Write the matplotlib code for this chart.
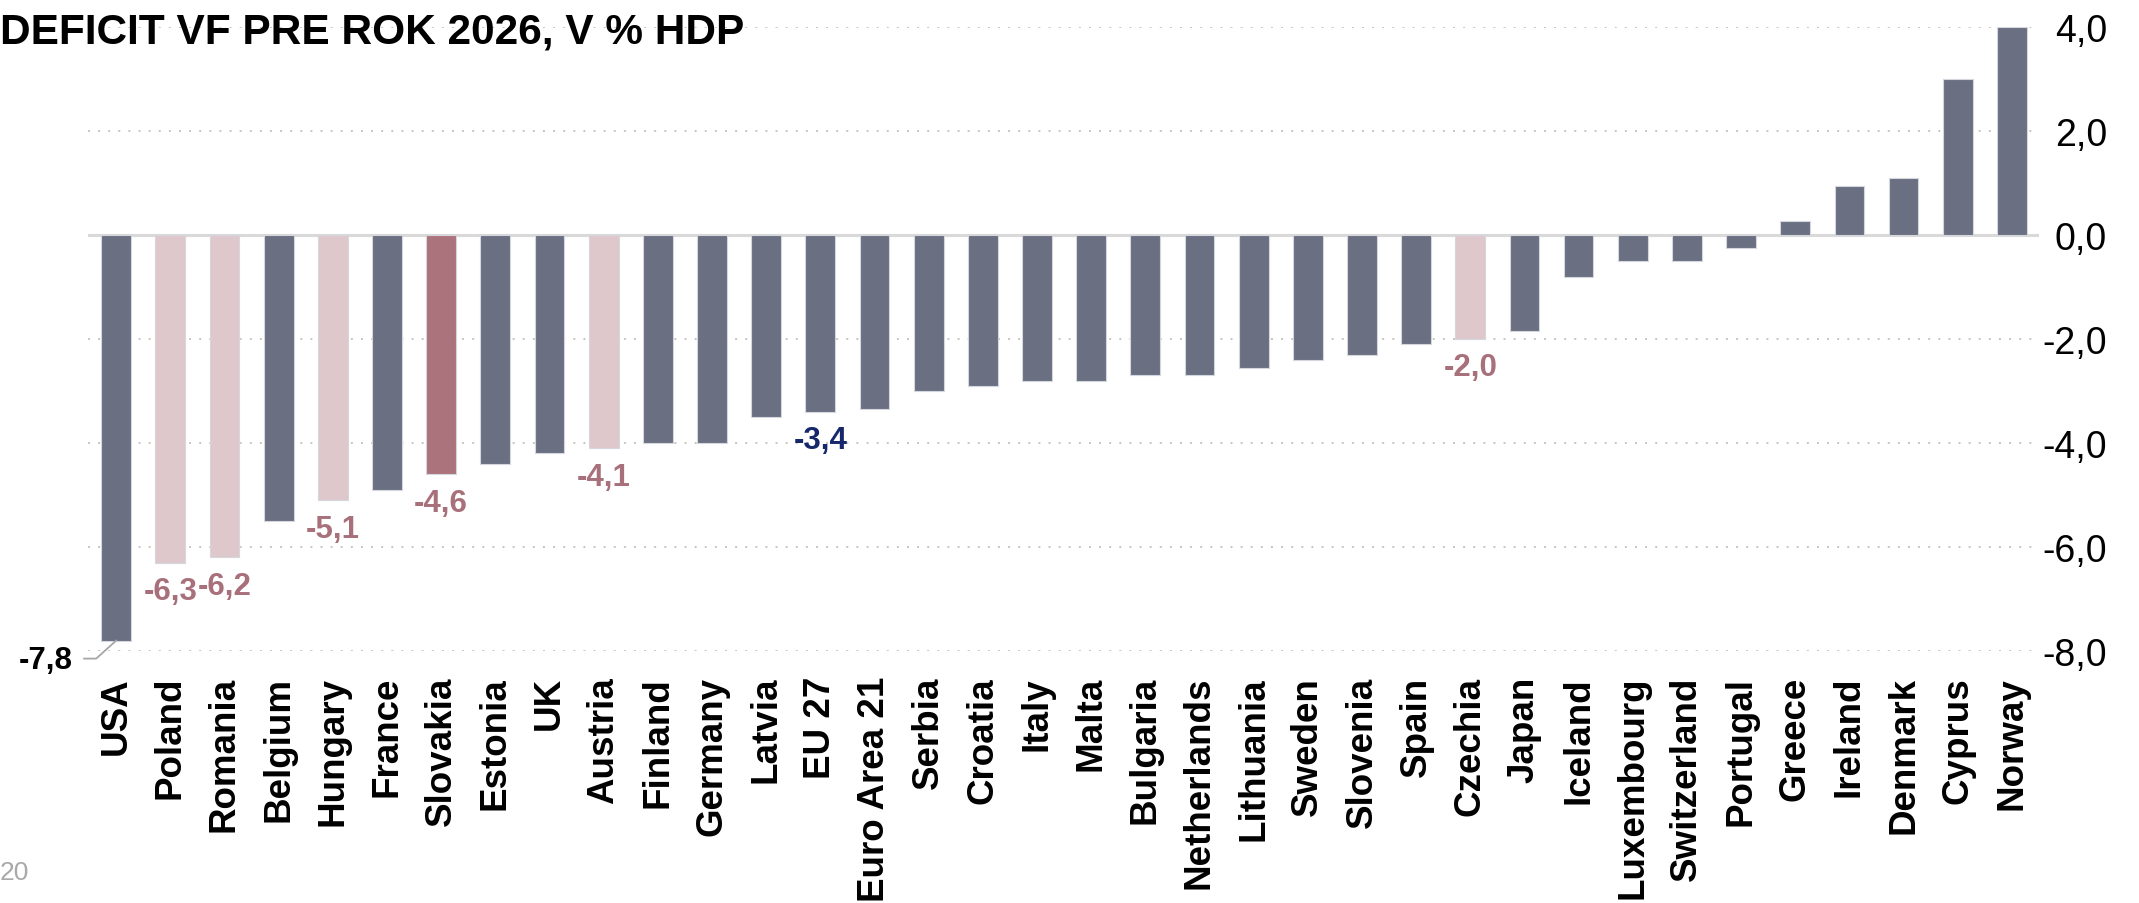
import matplotlib
matplotlib.use("Agg")
import matplotlib.pyplot as plt
import numpy as np

countries = ["USA", "Poland", "Romania", "Belgium", "Hungary", "France", "Slovakia",
             "Estonia", "UK", "Austria", "Finland", "Germany", "Latvia", "EU 27",
             "Euro Area 21", "Serbia", "Croatia", "Italy", "Malta", "Bulgaria",
             "Netherlands", "Lithuania", "Sweden", "Slovenia", "Spain", "Czechia",
             "Japan", "Iceland", "Luxembourg", "Switzerland", "Portugal", "Greece",
             "Ireland", "Denmark", "Cyprus", "Norway"]
values = [-7.8, -6.3, -6.2, -5.5, -5.1, -4.9, -4.6, -4.4, -4.2, -4.1, -4.0, -4.0,
          -3.5, -3.4, -3.35, -3.0, -2.9, -2.8, -2.8, -2.7, -2.7, -2.55, -2.4, -2.3,
          -2.1, -2.0, -1.85, -0.8, -0.5, -0.5, -0.25, 0.27, 0.95, 1.1, 3.0, 4.0]
highlight_light = ["Poland", "Romania", "Hungary", "Austria", "Czechia"]
highlight_dark = ["Slovakia"]
labelled_mauve = ["Poland", "Romania", "Hungary", "Slovakia", "Austria", "Czechia"]
labelled_navy = ["EU 27"]
labelled_black = ["USA"]
yticks = [4, 2, 0, -2, -4, -6, -8]
title = "DEFICIT VF PRE ROK 2026, V % HDP"
footer = "20"

GRAY = "#6a7081"
PINK = "#dfc8cb"
MAUVE = "#ab737b"
LABEL_MAUVE = "#a8707a"
NAVY = "#14286a"

plt.rcParams["font.family"] = ["Liberation Sans", "DejaVu Sans"]

W, H = 2139, 904
fig = plt.figure(figsize=(W / 100, H / 100), dpi=100)
ax = fig.add_axes([88 / W, 1 - 652 / H, (2039 - 88) / W, (652 - 28) / H])

x = np.arange(len(countries))
colors = []
for c in countries:
    if c in highlight_dark:
        colors.append(MAUVE)
    elif c in highlight_light:
        colors.append(PINK)
    else:
        colors.append(GRAY)

ax.bar(x, values, width=0.55, color=colors, edgecolor="#d4d7de", linewidth=0.8, zorder=3)
ax.set_xlim(-0.52, len(countries) - 0.5)
ax.set_ylim(-8, 4)

# gridlines
for t in yticks:
    if t == 0:
        ax.axhline(0, color="#d9d9d9", lw=2.2, zorder=2)
    else:
        ax.axhline(t, color="#c6c6bd", lw=1.4, ls=(0, (1, 4.2)), zorder=1)

for s in ax.spines.values():
    s.set_visible(False)

ax.set_xticks(x)
ax.set_xticklabels(countries, rotation=90, fontsize=26.5, fontweight="bold",
                   va="top", ha="center")
ax.tick_params(axis="x", length=0, pad=18)

ax.yaxis.tick_right()
ax.set_yticks(yticks)
ax.set_yticklabels([f"{t:.1f}".replace(".", ",") for t in yticks], fontsize=27)
for lab in ax.get_yticklabels():
    lab.set_ha("right")
ax.tick_params(axis="y", length=0, pad=49)


def fmt(v):
    return f"{v:.1f}".replace(".", ",")


# value labels
for i, (c, v) in enumerate(zip(countries, values)):
    if c in labelled_mauve or c in labelled_navy:
        col = LABEL_MAUVE if c in labelled_mauve else NAVY
        ax.annotate(fmt(v), xy=(i, v), xytext=(0, -20.5), textcoords="offset points",
                    ha="center", va="center", fontsize=22.5, fontweight="bold",
                    color=col, zorder=5)
    if c in labelled_black:
        p0 = ax.transData.transform((i, v))
        offs = np.array([[0, 0], [-20, -18], [-32, -18]])
        pts = ax.transData.inverted().transform(p0 + offs)
        ax.plot(pts[:, 0], pts[:, 1], color="#a6a6a6", lw=1.3, clip_on=False, zorder=4)
        lp = ax.transData.inverted().transform(p0 + np.array([-43, -19]))
        ax.text(lp[0], lp[1], fmt(v), ha="right", va="center", fontsize=22.5,
                fontweight="bold", color="black")

fig.text(0 / W, 1 - 32 / H, title, fontsize=30.5, fontweight="bold", ha="left",
         va="center", color="black")
fig.text(0 / W, 1 - 873 / H, footer, fontsize=19, color="#a9a9a9", ha="left", va="center")

fig.savefig("out.png", dpi=100)
